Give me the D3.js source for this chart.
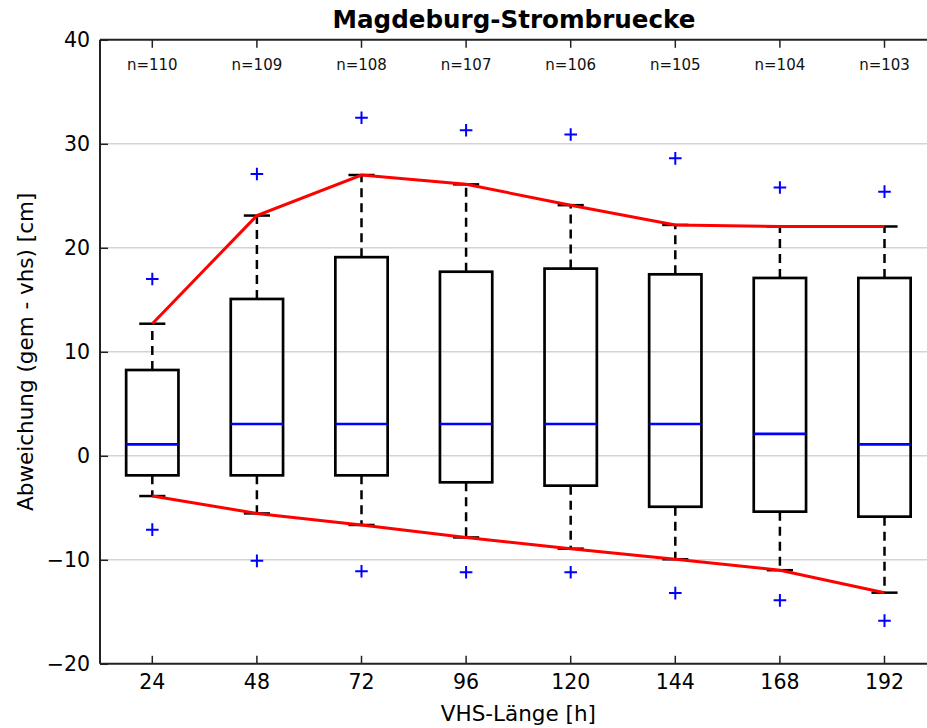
<!DOCTYPE html>
<html>
<head>
<meta charset="utf-8">
<script src="https://cdnjs.cloudflare.com/ajax/libs/d3/7.8.5/d3.min.js"></script>
<style>
  html, body { margin: 0; padding: 0; background: #fff; }
  svg { display: block; font-family: "DejaVu Sans", sans-serif; }
</style>
</head>
<body>
<script>
// ---- data ----
const categories   = ["24", "48", "72", "96", "120", "144", "168", "192"];
const nCounts      = [110, 109, 108, 107, 106, 105, 104, 103];
const whiskerHigh  = [12.7, 23.1, 27.0, 26.1, 24.1, 22.2, 22.05, 22.05];
const q3Values     = [8.25, 15.08, 19.1, 17.7, 18.0, 17.45, 17.1, 17.1];
const medianValues = [1.1, 3.06, 3.06, 3.06, 3.06, 3.06, 2.1, 1.1];
const q1Values     = [-1.88, -1.88, -1.88, -2.55, -2.87, -4.9, -5.37, -5.85];
const whiskerLow   = [-3.87, -5.54, -6.65, -7.85, -8.93, -9.95, -11.0, -13.16];
const outlierHigh  = [17.0, 27.1, 32.5, 31.3, 30.9, 28.6, 25.8, 25.4];
const outlierLow   = [-7.1, -10.1, -11.1, -11.2, -11.2, -13.2, -13.9, -15.85];
const yTicks       = [-20, -10, 0, 10, 20, 30, 40];

const W = 927, H = 728;
const L = 100, R = 936.8, T = 39.8, B = 663.8;

const svg = d3.select("body").append("svg").attr("width", W).attr("height", H);

const x = d3.scaleBand().domain(categories).range([L, R]).paddingInner(0).paddingOuter(0);
const y = d3.scaleLinear().domain([-20, 40]).range([B, T]);
const cx = c => x(c) + x.bandwidth() / 2;
const boxW = x.bandwidth() * 0.5;
const capW = x.bandwidth() * 0.25;

// gridlines
svg.append("g").selectAll("line").data(yTicks.filter(t => t > -20 && t < 40)).join("line")
  .attr("x1", L).attr("x2", W).attr("y1", d => y(d)).attr("y2", d => y(d))
  .attr("stroke", "#d3d3d3").attr("stroke-width", 1.5);

const data = categories.map((c, i) => ({
  c, n: nCounts[i], wh: whiskerHigh[i], q3: q3Values[i], med: medianValues[i],
  q1: q1Values[i], wl: whiskerLow[i], oh: outlierHigh[i], ol: outlierLow[i]
}));

const g = svg.append("g");
// whiskers (dashed)
g.selectAll("line.wu").data(data).join("line").attr("class", "wu")
  .attr("x1", d => cx(d.c)).attr("x2", d => cx(d.c))
  .attr("y1", d => y(d.q3)).attr("y2", d => y(d.wh))
  .attr("stroke", "#000").attr("stroke-width", 2.5).attr("stroke-dasharray", "9,6");
g.selectAll("line.wl").data(data).join("line").attr("class", "wl")
  .attr("x1", d => cx(d.c)).attr("x2", d => cx(d.c))
  .attr("y1", d => y(d.q1)).attr("y2", d => y(d.wl))
  .attr("stroke", "#000").attr("stroke-width", 2.5).attr("stroke-dasharray", "9,6");
// caps
g.selectAll("line.cu").data(data).join("line").attr("class", "cu")
  .attr("x1", d => cx(d.c) - capW / 2).attr("x2", d => cx(d.c) + capW / 2)
  .attr("y1", d => y(d.wh)).attr("y2", d => y(d.wh))
  .attr("stroke", "#000").attr("stroke-width", 2.5);
g.selectAll("line.cl").data(data).join("line").attr("class", "cl")
  .attr("x1", d => cx(d.c) - capW / 2).attr("x2", d => cx(d.c) + capW / 2)
  .attr("y1", d => y(d.wl)).attr("y2", d => y(d.wl))
  .attr("stroke", "#000").attr("stroke-width", 2.5);
// boxes
g.selectAll("rect.box").data(data).join("rect").attr("class", "box")
  .attr("x", d => cx(d.c) - boxW / 2).attr("width", boxW)
  .attr("y", d => y(d.q3)).attr("height", d => y(d.q1) - y(d.q3))
  .attr("fill", "none").attr("stroke", "#000").attr("stroke-width", 2.7);
// medians
g.selectAll("line.med").data(data).join("line").attr("class", "med")
  .attr("x1", d => cx(d.c) - boxW / 2).attr("x2", d => cx(d.c) + boxW / 2)
  .attr("y1", d => y(d.med)).attr("y2", d => y(d.med))
  .attr("stroke", "#0000ff").attr("stroke-width", 2.7);

// outliers '+'
function drawPlus(key) {
  g.selectAll("path.p" + key).data(data).join("path").attr("class", "p" + key)
    .attr("d", d => {
      const px = cx(d.c), py = y(d[key]), s = 6.3;
      return `M${px - s},${py}H${px + s}M${px},${py - s}V${py + s}`;
    })
    .attr("fill", "none").attr("stroke", "#0000ff").attr("stroke-width", 2);
}
drawPlus("oh");
drawPlus("ol");

// red envelope lines
const line = d3.line().x(d => cx(d[0])).y(d => y(d[1]));
g.append("path").attr("d", line(categories.map((c, i) => [c, whiskerHigh[i]])))
  .attr("fill", "none").attr("stroke", "#ff0000").attr("stroke-width", 3);
g.append("path").attr("d", line(categories.map((c, i) => [c, whiskerLow[i]])))
  .attr("fill", "none").attr("stroke", "#ff0000").attr("stroke-width", 3);

// n labels
svg.append("g").selectAll("text").data(data).join("text")
  .attr("x", d => cx(d.c)).attr("y", 70).attr("text-anchor", "middle")
  .attr("font-size", 15).attr("fill", "#111").text(d => "n=" + d.n);

// axes
const axisStyle = sel => {
  sel.select(".domain").remove();
  sel.selectAll(".tick line").attr("stroke", "#222").attr("stroke-width", 1.5);
  sel.selectAll(".tick text").attr("font-size", 20.5).attr("fill", "#000")
    .attr("font-family", "DejaVu Sans, sans-serif");
};
svg.append("g").attr("transform", `translate(0,${B})`)
  .call(d3.axisBottom(x).tickSizeInner(-8).tickSizeOuter(0).tickPadding(11))
  .call(axisStyle);
svg.append("g").attr("transform", `translate(0,${T})`)
  .call(d3.axisTop(x).tickSizeInner(-8).tickSizeOuter(0).tickFormat(""))
  .call(axisStyle);
svg.append("g").attr("transform", `translate(${L},0)`)
  .call(d3.axisLeft(y).tickValues(yTicks).tickSizeInner(-8).tickSizeOuter(0).tickPadding(10)
    .tickFormat(d => d < 0 ? "\u2212" + Math.abs(d) : d))
  .call(axisStyle);

// spines
svg.append("line").attr("x1", L).attr("x2", L).attr("y1", T).attr("y2", B)
  .attr("stroke", "#222").attr("stroke-width", 2);
svg.append("line").attr("x1", L).attr("x2", W).attr("y1", T).attr("y2", T)
  .attr("stroke", "#222").attr("stroke-width", 2);
svg.append("line").attr("x1", L).attr("x2", W).attr("y1", B).attr("y2", B)
  .attr("stroke", "#222").attr("stroke-width", 2);

// title & labels
svg.append("text").attr("x", 514).attr("y", 28).attr("text-anchor", "middle")
  .attr("font-size", 24.6).attr("font-weight", "bold").text("Magdeburg-Strombruecke");
svg.append("text").attr("x", (L + R) / 2).attr("y", 721).attr("text-anchor", "middle")
  .attr("font-size", 21.5).text("VHS-Länge [h]");
svg.append("text").attr("transform", `translate(33,${(T + B) / 2}) rotate(-90)`)
  .attr("text-anchor", "middle").attr("font-size", 21.5).text("Abweichung (gem - vhs) [cm]");
</script>
</body>
</html>
